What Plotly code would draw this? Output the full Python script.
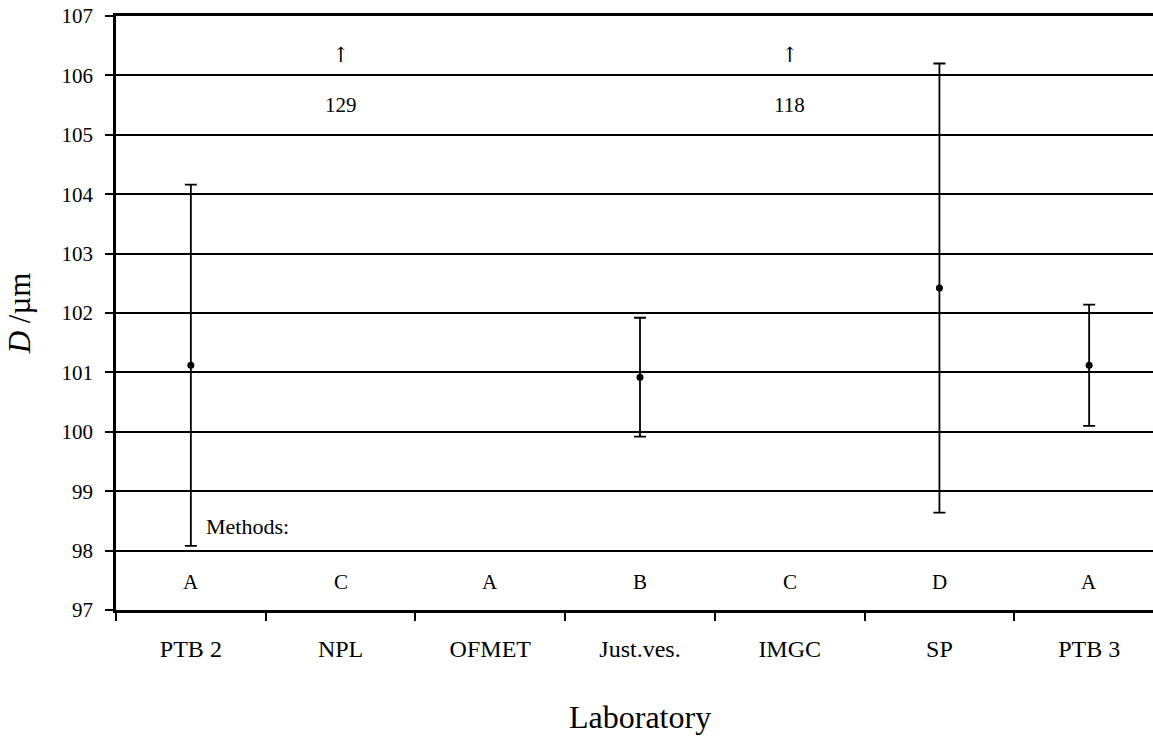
import plotly.graph_objects as go

labs = ["PTB 2", "NPL", "OFMET", "Just.ves.", "IMGC", "SP", "PTB 3"]
D_val = [101.12, None, None, 100.92, None, 102.42, 101.12]
U_val = [3.04, None, None, 1.00, None, 3.78, 1.02]
methods = ["A", "C", "A", "B", "C", "D", "A"]
off_labs = ["NPL", "IMGC"]
off_vals = [129, 118]

FONT = "Liberation Serif, Times New Roman, serif"
xs = list(range(len(labs)))
px = [i for i, v in zip(xs, D_val) if v is not None]
py = [v for v in D_val if v is not None]
pe = [u for u, v in zip(U_val, D_val) if v is not None]

fig = go.Figure()
fig.add_trace(go.Scatter(
    x=px, y=py, mode="markers",
    marker=dict(color="black", size=7),
    error_y=dict(type="data", array=pe, color="black", thickness=1.8, width=6),
    showlegend=False, cliponaxis=False))

ann = []
for lab, v in zip(off_labs, off_vals):
    i = labs.index(lab)
    ann.append(dict(x=i, y=106.35, xref="x", yref="y", text="↑", showarrow=False,
                    font=dict(family="DejaVu Serif, Liberation Serif, serif", size=21, color="black")))
    ann.append(dict(x=i, y=105.5, xref="x", yref="y", text=str(v), showarrow=False,
                    font=dict(family=FONT, size=21, color="black")))
for i, m in enumerate(methods):
    ann.append(dict(x=i, y=97.47, xref="x", yref="y", text=m, showarrow=False,
                    font=dict(family=FONT, size=21, color="black")))
ann.append(dict(x=0.085, y=98.4, xref="x", yref="y", text="Methods:", showarrow=False,
                xanchor="left", font=dict(family=FONT, size=22, color="black")))
ann.append(dict(x=3, y=-0.18, xref="x", yref="paper", text="Laboratory", showarrow=False,
                yanchor="middle", font=dict(family=FONT, size=32, color="black")))

fig.update_layout(
    width=1153, height=738,
    margin=dict(l=116, r=0, t=16, b=128),
    paper_bgcolor="white", plot_bgcolor="white",
    font=dict(family=FONT, color="black"),
    annotations=ann,
    xaxis=dict(
        range=[-0.5, 6.5 - 11 / 149.7],
        tickmode="array", tickvals=xs, ticktext=labs,
        ticks="outside", ticklen=15, tickcolor="rgba(0,0,0,0)",
        tickfont=dict(family=FONT, size=24, color="black"),
        minor=dict(tickmode="array", tickvals=[i - 0.5 for i in range(len(labs) + 1)],
                   ticks="outside", ticklen=8, tickcolor="black", tickwidth=1.5, showgrid=False),
        showgrid=False, zeroline=False,
        showline=True, linecolor="black", linewidth=3, mirror=True,
    ),
    yaxis=dict(
        range=[97, 107], tickmode="linear", tick0=97, dtick=1,
        ticks="outside", ticklen=8, tickwidth=1.5, tickcolor="black",
        tickfont=dict(family=FONT, size=21, color="black"),
        ticklabelstandoff=8,
        showgrid=True, gridcolor="black", gridwidth=1.5,
        zeroline=False, showline=True, linecolor="black", linewidth=2.5,
        title=dict(text="<i>D</i> /µm", font=dict(family=FONT, size=31, color="black"), standoff=22),
    ),
)

fig.write_html("out.html")
